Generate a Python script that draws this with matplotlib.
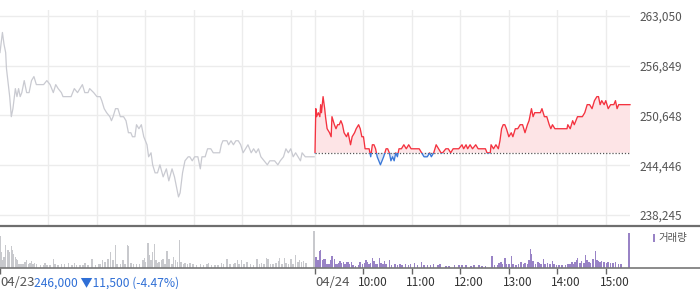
import matplotlib
matplotlib.use("Agg")
import matplotlib.pyplot as plt
from matplotlib.lines import Line2D
from matplotlib.patches import Rectangle
from matplotlib.transforms import blended_transform_factory
import numpy as np

plt.rcParams['font.family'] = ['Noto Sans CJK KR', 'DejaVu Sans']

# previous close and right-side price ticks
prev_close = 246000
price_ticks = [238245, 244446, 250648, 256849, 263050]

# 04/23 (minutes from 09:00, price)
day1_min = [0, 3, 5, 7, 8, 12, 14, 16, 19, 21, 23, 25, 27, 30, 33, 36, 39, 42, 45, 50,
            54, 58, 62, 66, 69, 72, 76, 78, 83, 88, 92, 96, 99, 102, 105, 109, 111, 116, 120, 124,
            126, 129, 132, 136, 138, 140, 143, 146, 149, 153, 156, 159, 162, 164, 167, 169, 172, 175, 178, 182,
            184, 187, 189, 192, 195, 198, 202, 206, 209, 213, 216, 219, 221, 223, 226, 229, 233, 235, 238, 241,
            245, 248, 250, 254, 257, 261, 264, 268, 272, 274, 276, 281, 283, 286, 289, 292, 295, 298, 301, 304,
            307, 311, 314, 317, 320, 323, 327, 331, 334, 337, 340, 344, 347, 351, 354, 357, 360, 363, 366, 369,
            372, 374, 378, 384, 389]
day1_price = [258500, 261000, 259500, 258500, 256500, 253000, 250500, 251500, 254000, 253000,
              254000, 253000, 253500, 255000, 253500, 253500, 255000, 255500, 254500, 254500,
              254500, 255000, 254500, 253500, 254500, 254000, 253500, 253000, 253000, 253000,
              254000, 253500, 254000, 254500, 253500, 253500, 254000, 253500, 253000, 253000,
              252500, 251500, 251000, 250500, 250000, 250500, 251500, 251500, 250500, 250500,
              250000, 248500, 248500, 248000, 248000, 249500, 249000, 249500, 248000, 247000,
              245500, 246000, 244500, 243500, 243500, 244500, 243000, 244000, 242500, 244000,
              243000, 241500, 240500, 241000, 243500, 245000, 245500, 245500, 245000, 245500,
              245500, 244000, 245500, 245500, 246500, 246500, 246000, 246000, 246000, 247000,
              247500, 247500, 247000, 247500, 247000, 247500, 247500, 247000, 246000, 246500,
              247000, 246000, 246500, 246000, 246500, 245500, 245000, 244500, 245000, 245000,
              245000, 244500, 245000, 245500, 246500, 246000, 246500, 245500, 246000, 245500,
              245000, 246000, 245500, 245500, 245500]

# 04/24 (minutes from 09:00, price)
day2_min = [0, 1, 2, 4, 6, 7, 8, 10, 12, 13, 15, 18, 20, 21, 24, 26, 28, 30, 32, 34,
            36, 39, 41, 44, 46, 49, 51, 54, 56, 58, 60, 62, 65, 67, 69, 71, 73, 75, 77, 79,
            81, 83, 85, 88, 90, 92, 94, 96, 98, 100, 102, 104, 107, 110, 113, 116, 119, 123, 125, 129,
            132, 135, 139, 142, 144, 147, 150, 153, 156, 158, 162, 165, 168, 171, 174, 178, 182, 184, 187, 189,
            192, 195, 199, 202, 207, 211, 213, 217, 218, 221, 224, 227, 229, 231, 233, 235, 237, 240, 243, 245,
            248, 251, 254, 257, 260, 263, 265, 268, 270, 272, 274, 279, 281, 284, 287, 290, 292, 294, 297, 300,
            304, 308, 312, 313, 316, 319, 321, 325, 328, 331, 334, 337, 340, 343, 346, 349, 351, 353, 355, 358,
            360, 363, 366, 370, 372, 374, 376, 380, 390]
day2_price = [246000, 251500, 250500, 251000, 250500, 252000, 251000, 253000, 251500, 250500,
              249000, 248500, 248000, 250500, 249500, 249000, 249500, 249500, 250000, 249500,
              248500, 248000, 248500, 247000, 248000, 248500, 249000, 249500, 249000, 248000,
              248000, 246500, 246500, 246500, 245500, 247000, 247000, 246500, 245500, 245000,
              244500, 245000, 245500, 246500, 246500, 246000, 245000, 245500, 245000, 246000,
              245500, 246500, 246500, 247000, 246500, 247000, 246500, 246500, 246500, 246500,
              246000, 245500, 245500, 246000, 245500, 246000, 247000, 246500, 246000, 246000,
              246500, 246500, 246000, 246500, 246500, 246500, 247000, 246500, 247000, 246500,
              247000, 246500, 247000, 246500, 246500, 246500, 246000, 246000, 247000, 246500,
              247000, 246500, 247500, 249000, 249500, 249500, 249000, 248000, 248500, 248000,
              249000, 249000, 249500, 249500, 248500, 249500, 250000, 251500, 250500, 251000,
              251000, 251000, 251500, 250500, 250500, 249500, 249000, 249500, 249000, 249000,
              249000, 249000, 249000, 249500, 249000, 250000, 249500, 250500, 250500, 250500,
              251000, 252000, 252000, 251500, 252500, 253000, 253000, 252000, 252500, 252000,
              252500, 251500, 252000, 252000, 252500, 251500, 252000, 252000, 252000]

# volume (shares)
vol1_min = [0, 1, 2, 4, 5, 6, 7, 9, 10, 11, 12, 14, 15, 16, 17, 19, 20, 21, 23, 25,
            27, 29, 31, 33, 35, 37, 39, 41, 43, 45, 50, 54, 56, 58, 62, 66, 68, 72, 76, 80,
            85, 89, 92, 95, 99, 103, 105, 109, 114, 118, 122, 124, 127, 130, 134, 137, 140, 143, 145, 149,
            152, 155, 158, 159, 162, 165, 169, 173, 177, 179, 180, 183, 185, 187, 189, 191, 193, 195, 197, 200,
            202, 204, 207, 209, 210, 213, 215, 217, 220, 222, 224, 227, 229, 232, 235, 239, 243, 248, 252, 256,
            258, 262, 266, 270, 274, 277, 281, 285, 289, 291, 294, 296, 299, 302, 306, 310, 314, 318, 321, 324,
            327, 330, 332, 335, 338, 342, 345, 346, 349, 352, 354, 357, 360, 363, 366, 369, 371, 373, 376, 379,
            389]
vol1 = [31700, 9000, 15700, 7300, 10700, 9000, 22300, 9000, 17300, 14000,
        15700, 21300, 17300, 14000, 12300, 10700, 9000, 7300, 3300, 3300,
        3300, 3300, 5700, 7300, 4000, 4700, 6300, 3300, 4700, 3300,
        2300, 3000, 4700, 3000, 3000, 9000, 4000, 2300, 3300, 4000,
        4700, 3000, 4700, 2300, 2300, 3000, 4700, 3000, 9000, 3000,
        4000, 3300, 8000, 5700, 9000, 15700, 7300, 22300, 3300, 3300,
        7300, 3300, 22300, 21300, 4700, 4000, 3300, 4000, 7300, 10000,
        5700, 24700, 12300, 7300, 15700, 23300, 7300, 4700, 5700, 7300,
        9000, 4000, 16700, 9000, 7300, 3300, 10700, 7300, 5700, 27300,
        5700, 4000, 4700, 3300, 4700, 3300, 2300, 3300, 3000, 3300,
        4700, 3000, 2300, 2300, 4700, 4000, 8300, 4000, 3300, 4700,
        7300, 4000, 7300, 3300, 5700, 3300, 3000, 9000, 4000, 4700,
        3300, 9700, 8300, 4000, 3300, 4700, 6700, 9700, 3300, 9700,
        4700, 3300, 9000, 3300, 12300, 5700, 7300, 5700, 6700, 4700,
        36700]
vol2_min = [1, 2, 3, 5, 6, 7, 9, 11, 13, 15, 17, 18, 20, 21, 24, 26, 28, 30, 31, 33,
            35, 37, 39, 41, 43, 45, 47, 50, 54, 56, 59, 61, 63, 65, 67, 69, 71, 73, 75, 77,
            80, 82, 84, 86, 88, 92, 95, 99, 102, 105, 108, 112, 116, 118, 123, 127, 132, 135, 139, 143,
            147, 152, 155, 162, 166, 173, 178, 182, 187, 193, 197, 203, 207, 211, 219, 222, 226, 228, 230, 232,
            235, 237, 240, 243, 245, 249, 252, 255, 258, 260, 263, 265, 267, 268, 270, 273, 276, 278, 280, 283,
            285, 288, 291, 294, 296, 299, 302, 306, 310, 313, 316, 318, 320, 322, 324, 325, 328, 330, 333, 335,
            337, 339, 341, 344, 345, 347, 349, 351, 353, 355, 358, 361, 363, 366, 369, 372, 376, 379, 389]
vol2 = [10700, 9000, 7300, 8000, 16700, 17300, 7300, 9000, 8300, 4000,
        3300, 4000, 7300, 11300, 9000, 4000, 3300, 4700, 6700, 4700,
        5700, 3300, 5700, 5700, 3300, 5700, 2300, 2000, 2300, 5700,
        3300, 4700, 7300, 5700, 3300, 4700, 9700, 6700, 4000, 3300,
        9700, 4700, 3300, 6300, 4000, 7300, 2300, 3300, 2300, 3300,
        3000, 3300, 3000, 3300, 4700, 2300, 5700, 2300, 3000, 2300,
        3300, 2300, 4000, 2000, 2000, 2300, 2300, 3000, 2300, 2000,
        3000, 2300, 2000, 2000, 11700, 2300, 3000, 4700, 5300, 3300,
        9700, 4000, 3300, 11700, 3300, 2300, 3300, 5700, 3300, 4700,
        3300, 8000, 18300, 14000, 6300, 4000, 5700, 4700, 3300, 8300,
        3300, 4700, 3300, 6700, 3300, 2300, 2300, 3000, 3000, 3300,
        3300, 5700, 4000, 6000, 7300, 9700, 4700, 6700, 4700, 12300,
        7300, 5700, 4700, 8300, 6300, 16700, 7300, 6300, 5700, 6300,
        5300, 4700, 5700, 4700, 4700, 5700, 3300, 4000, 34700]

day_labels = ["04/23", "04/24"]
hour_labels = ["10:00", "11:00", "12:00", "13:00", "14:00", "15:00"]
close_text = "246,000 ▼11,500 (-4.47%)"

W, H = 700, 289
fig = plt.figure(figsize=(W / 100, H / 100), dpi=100)


def fy(py):
    return 1 - py / H


# price panel: 263,050 at y=16px, 238,245 at y=215px
per_px = (price_ticks[-1] - price_ticks[0]) / (215 - 16)
top_px, bot_px = 10, 226
ax = fig.add_axes([0, fy(bot_px), 630 / W, (bot_px - top_px) / H])
ax.set_xlim(0, 780)
ax.set_ylim(price_ticks[0] - (bot_px - 215) * per_px, price_ticks[-1] + (16 - top_px) * per_px)
for s in ax.spines.values():
    s.set_visible(False)

grid_x = [60, 120, 180, 240, 300, 360, 390, 450, 510, 570, 630, 690, 750]
ax.set_xticks(grid_x)
ax.set_xticklabels([])
ax.tick_params(axis='x', length=0)
ax.yaxis.tick_right()
ax.set_yticks(price_ticks)
ax.set_yticklabels([f"{v:,}" for v in price_ticks])
ax.tick_params(axis='y', length=0, pad=6.5, labelsize=8.5, labelcolor='#555555')
ax.grid(True, color='#ececec', lw=1)
ax.set_axisbelow(True)

x1 = np.array(day1_min, dtype=float)
p1 = np.array(day1_price, dtype=float)
x2 = np.array(day2_min, dtype=float) + 390
p2 = np.array(day2_price, dtype=float)

ax.plot(x1, p1, color='#c9cad1', lw=0.9)

ax.fill_between(x2, p2, prev_close, where=p2 >= prev_close, interpolate=True,
                color='#fde4e6', lw=0)
ax.fill_between(x2, p2, prev_close, where=p2 <= prev_close, interpolate=True,
                color='#dfe8f7', lw=0)
ax.plot([390, 780], [prev_close, prev_close], color='#555555', lw=0.9,
        linestyle=(0, (1, 1.5)))

up_clip = Rectangle((380, prev_close), 420, 40000, transform=ax.transData)
dn_clip = Rectangle((380, prev_close - 40000), 420, 40000, transform=ax.transData)
red, = ax.plot(x2, p2, color='#f4323f', lw=0.95)
red.set_clip_path(up_clip)
blue, = ax.plot(x2, p2, color='#3a78d8', lw=0.95)
blue.set_clip_path(dn_clip)

# volume panel
vtop, vbot = 228, 267.7
vax = fig.add_axes([0, fy(vbot), 630 / W, (vbot - vtop) / H])
vax.set_xlim(0, 780)
vax.set_ylim(0, (vbot - vtop) * 1000)
for s in vax.spines.values():
    s.set_visible(False)
vax.set_yticks([])
vax.bar(vol1_min, vol1, width=1.9, color='#c8c9cd', lw=0)
vax.bar(np.array(vol2_min) + 390, vol2, width=1.9, color='#9983c6', lw=0)

tick_x = [0, 390, 450, 510, 570, 630, 690, 750]
vax.set_xticks(tick_x)
vax.set_xticklabels([])
vax.tick_params(axis='x', direction='out', length=4, width=1, color='#666666')

# separator lines across the full width
fig.add_artist(Line2D([0, 1], [fy(226), fy(226)], color='#6e6e6e', lw=1.6))
fig.add_artist(Line2D([0, 1], [fy(vbot), fy(vbot)], color='#777777', lw=1.2))

# bottom labels
lab_y = fy(283)
tr = blended_transform_factory(vax.transData, fig.transFigure)
vax.text(0.5, lab_y, day_labels[0], transform=tr, ha='left', va='center',
         fontsize=9.5, color='#555555')
fig.text(34 / W, lab_y, close_text, ha='left', va='center', fontsize=8.7,
         color='#2f6fd6')
vax.text(391, lab_y, day_labels[1], transform=tr, ha='left', va='center',
         fontsize=9.5, color='#555555')
for pos, lab in zip(tick_x[2:], hour_labels):
    vax.text(pos + 11, lab_y, lab, transform=tr, ha='center', va='center',
             fontsize=8.5, color='#333333')

# volume legend
fig.add_artist(Rectangle((652.7 / W, fy(241.5)), 2.6 / W, 7.5 / H,
                         transform=fig.transFigure, color='#9983c6', lw=0))
fig.text(658 / W, fy(238), "거래량", ha='left', va='center', fontsize=7.5,
         color='#555555')

fig.savefig("out.png", dpi=100)
